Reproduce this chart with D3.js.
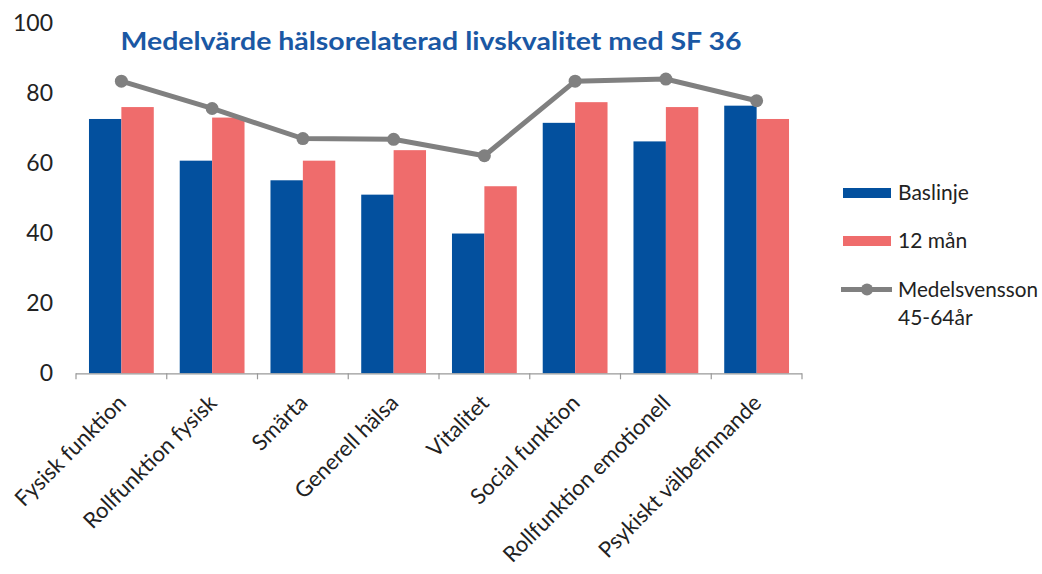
<!DOCTYPE html>
<html><head><meta charset="utf-8">
<script src="https://cdn.jsdelivr.net/npm/d3@7"></script>
<style>body{margin:0;background:#fff}svg{display:block}text{font-family:Lato,"Open Sans",sans-serif}</style>
</head><body><svg id="c" width="1042" height="574"></svg>
<script>
const categories = ["Fysisk funktion","Rollfunktion fysisk","Smärta","Generell hälsa","Vitalitet","Social funktion","Rollfunktion emotionell","Psykiskt välbefinnande"];
const baslinje = [72.6,60.7,55.1,51.0,39.9,71.5,66.2,76.4];
const man12 = [76.0,73.0,60.7,63.7,53.4,77.4,76.0,72.6];
const medelsvensson = [83.4,75.6,67.0,66.8,62.1,83.4,84.0,77.8];
const yTicks = [0,20,40,60,80,100];
const seriesNames = ["Baslinje","12 mån","Medelsvensson 45-64år"];

const svg = d3.select("#c");
const x0 = 76, x1 = 802, yBase = 373.3, yTop = 23;
const x = d3.scaleBand().domain(categories).range([x0,x1]).paddingInner(0.286).paddingOuter(0.143);
const xs = d3.scaleBand().domain([0,1]).range([0,x.bandwidth()]);
const y = d3.scaleLinear().domain([0,100]).range([yBase,yTop]);
const blue = "#03509e", pink = "#ef6c6c", gray = "#808080";

// y tick labels
svg.append("g").selectAll("text").data(yTicks).join("text")
  .attr("x",53).attr("y",d=>y(d)).attr("dy","0.35em").attr("text-anchor","end")
  .attr("font-size",23).attr("fill","#222").text(d=>d);

// bars
const series = [baslinje, man12];
const cols = [blue, pink];
series.forEach((s,i)=>{
  svg.append("g").selectAll("rect").data(s).join("rect")
    .attr("x",(d,j)=>x(categories[j])+xs(i)).attr("width",xs.bandwidth())
    .attr("y",d=>y(d)).attr("height",d=>yBase-y(d)).attr("fill",cols[i]);
});

// x axis
const axisX = d3.scaleLinear().domain([0,categories.length]).range([x0,x1]);
svg.append("line").attr("x1",x0).attr("x2",x1).attr("y1",yBase+0.5).attr("y2",yBase+0.5).attr("stroke","#999").attr("stroke-width",1.2);
svg.append("g").selectAll("line").data(d3.range(categories.length+1)).join("line")
  .attr("x1",d=>axisX(d)).attr("x2",d=>axisX(d)).attr("y1",yBase).attr("y2",yBase+6)
  .attr("stroke","#999").attr("stroke-width",1.2);

// x labels
svg.append("g").selectAll("text").data(categories).join("text")
  .attr("transform",d=>`translate(${x(d)+x.bandwidth()/2+6},${yBase+31}) rotate(-45)`)
  .attr("text-anchor","end").attr("font-size",22).attr("fill","#222").text(d=>d);

// line
const cx = (d,j)=>x(categories[j])+x.bandwidth()/2;
svg.append("path").datum(medelsvensson)
  .attr("d",d3.line().x(cx).y(d=>y(d)))
  .attr("fill","none").attr("stroke",gray).attr("stroke-width",5);
svg.append("g").selectAll("circle").data(medelsvensson).join("circle")
  .attr("cx",cx).attr("cy",d=>y(d)).attr("r",6.5).attr("fill",gray);

// title
svg.append("text").attr("x",431).attr("y",50).attr("text-anchor","middle")
  .attr("font-size",25).attr("font-weight","bold").attr("fill","#1a58a4")
  .attr("textLength",621).attr("lengthAdjust","spacingAndGlyphs")
  .text("Medelvärde hälsorelaterad livskvalitet med SF 36");

// legend
const lg = svg.append("g");
lg.append("rect").attr("x",843).attr("y",188).attr("width",48).attr("height",10).attr("fill",blue);
lg.append("rect").attr("x",843).attr("y",236).attr("width",48).attr("height",10).attr("fill",pink);
lg.append("line").attr("x1",841).attr("x2",892).attr("y1",289.5).attr("y2",289.5).attr("stroke",gray).attr("stroke-width",5);
lg.append("circle").attr("cx",867).attr("cy",289.5).attr("r",6).attr("fill",gray);
lg.append("text").attr("x",898).attr("y",193).attr("dy","0.35em").attr("font-size",21).attr("fill","#222").text(seriesNames[0]);
lg.append("text").attr("x",898).attr("y",241).attr("dy","0.35em").attr("font-size",21).attr("fill","#222").text(seriesNames[1]);
lg.append("text").attr("x",898).attr("y",290).attr("dy","0.35em").attr("font-size",21).attr("fill","#222")
  .attr("textLength",140).attr("lengthAdjust","spacingAndGlyphs").text("Medelsvensson");
lg.append("text").attr("x",898).attr("y",318).attr("dy","0.35em").attr("font-size",21).attr("fill","#222").text("45-64år");
</script></body></html>
